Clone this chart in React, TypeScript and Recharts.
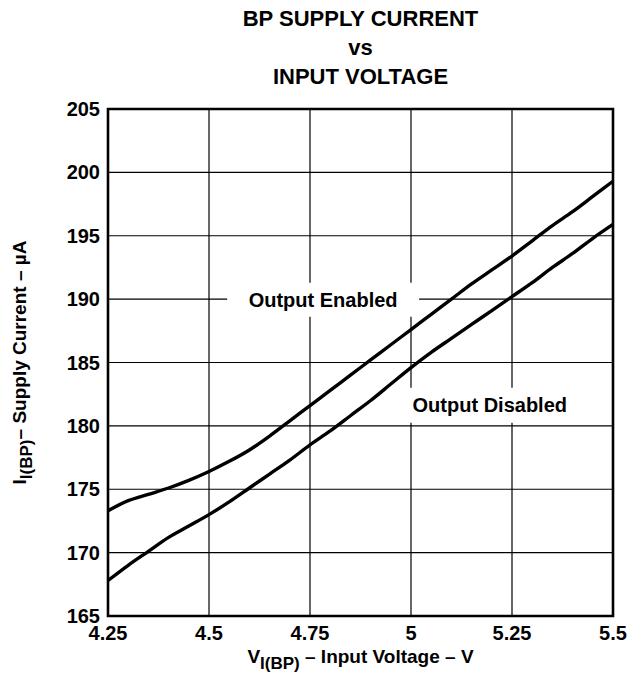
import { LineChart, Line, XAxis, YAxis, CartesianGrid, ReferenceArea } from 'recharts';

const voltage = [4.25, 4.3, 4.35, 4.4, 4.45, 4.5, 4.55, 4.6, 4.65, 4.7, 4.75, 4.8, 4.85, 4.9, 4.95, 5.0, 5.05, 5.1, 5.15, 5.2, 5.25, 5.3, 5.35, 5.4, 5.45, 5.5];
const enabledCurrent = [173.3, 174.1, 174.6, 175.1, 175.7, 176.4, 177.2, 178.1, 179.2, 180.4, 181.6, 182.8, 184.0, 185.2, 186.4, 187.6, 188.8, 190.0, 191.2, 192.3, 193.4, 194.6, 195.8, 196.9, 198.1, 199.3];
const disabledCurrent = [167.8, 169.0, 170.1, 171.2, 172.1, 173.0, 174.0, 175.1, 176.2, 177.3, 178.5, 179.6, 180.8, 182.0, 183.3, 184.6, 185.8, 186.9, 188.0, 189.1, 190.2, 191.3, 192.5, 193.6, 194.8, 195.9];

const xTicks = [4.25, 4.5, 4.75, 5, 5.25, 5.5];
const yTicks = [165, 170, 175, 180, 185, 190, 195, 200, 205];

const FONT = '"Liberation Sans", Arial, Helvetica, sans-serif';

const chartData = voltage.map((v, i) => ({
  v,
  enabled: enabledCurrent[i],
  disabled: disabledCurrent[i],
}));

// x axis title with subscript
const XTitle = ({ viewBox }: any) => {
  const cx = viewBox.x + viewBox.width / 2;
  const y = viewBox.y + 47;
  return (
    <text x={cx} y={y} textAnchor="middle" fontFamily={FONT} fontWeight="bold" fontSize={19} fill="#000">
      <tspan>V</tspan>
      <tspan dy={6} fontSize={17}>I(BP)</tspan>
      <tspan dy={-6}> – Input Voltage – V</tspan>
    </text>
  );
};

// y axis title, rotated, with subscript
const YTitle = ({ viewBox }: any) => {
  const x = 26;
  const cy = viewBox.y + viewBox.height / 2;
  return (
    <text
      x={x}
      y={cy}
      transform={`rotate(-90, ${x}, ${cy})`}
      textAnchor="middle"
      fontFamily={FONT}
      fontWeight="bold"
      fontSize={19}
      fill="#000"
    >
      <tspan>I</tspan>
      <tspan dy={6} fontSize={17}>I(BP)</tspan>
      <tspan dy={-6}>– Supply Current – µA</tspan>
    </text>
  );
};

const noteLabel = (text: string) => ({
  value: text,
  position: 'center' as const,
  fill: '#000',
  fontSize: 20,
  fontWeight: 'bold',
  fontFamily: FONT,
});

export default function App() {
  return (
    <div style={{ position: 'absolute', left: 0, top: 0, width: 637, height: 680, background: '#fff', fontFamily: FONT }}>
      <div
        style={{
          position: 'absolute',
          left: 108,
          width: 505,
          top: 4,
          textAlign: 'center',
          fontWeight: 'bold',
          fontSize: 22,
          lineHeight: '29px',
          color: '#000',
        }}
      >
        <div>BP SUPPLY CURRENT</div>
        <div>vs</div>
        <div>INPUT VOLTAGE</div>
      </div>
      <LineChart
        width={637}
        height={680}
        data={chartData}
        margin={{ top: 109, right: 24, bottom: 0, left: 0 }}
      >
        <CartesianGrid stroke="#000" strokeWidth={1.2} />
        <XAxis
          type="number"
          dataKey="v"
          domain={[4.25, 5.5]}
          ticks={xTicks}
          height={64}
          axisLine={false}
          tickLine={false}
          tickMargin={4}
          tick={{ fill: '#000', fontSize: 20, fontWeight: 'bold', fontFamily: FONT }}
          label={<XTitle />}
        />
        <YAxis
          type="number"
          domain={[165, 205]}
          ticks={yTicks}
          width={108}
          axisLine={false}
          tickLine={false}
          tick={{ fill: '#000', fontSize: 20, fontWeight: 'bold', fontFamily: FONT }}
          label={<YTitle />}
        />
        <ReferenceArea
          x1={4.545}
          x2={5.02}
          y1={188.6}
          y2={191.3}
          fill="#fff"
          fillOpacity={1}
          stroke="none"
          label={noteLabel('Output Enabled')}
        />
        <ReferenceArea
          x1={4.97}
          x2={5.42}
          y1={180.25}
          y2={183.0}
          fill="#fff"
          fillOpacity={1}
          stroke="none"
          label={noteLabel('Output Disabled')}
        />
        <ReferenceArea
          x1={4.25}
          x2={5.5}
          y1={165}
          y2={205}
          fill="none"
          stroke="#000"
          strokeWidth={2.6}
        />
        <Line
          type="monotone"
          dataKey="enabled"
          stroke="#000"
          strokeWidth={3.4}
          dot={false}
          isAnimationActive={false}
        />
        <Line
          type="monotone"
          dataKey="disabled"
          stroke="#000"
          strokeWidth={3.4}
          dot={false}
          isAnimationActive={false}
        />
      </LineChart>
    </div>
  );
}
